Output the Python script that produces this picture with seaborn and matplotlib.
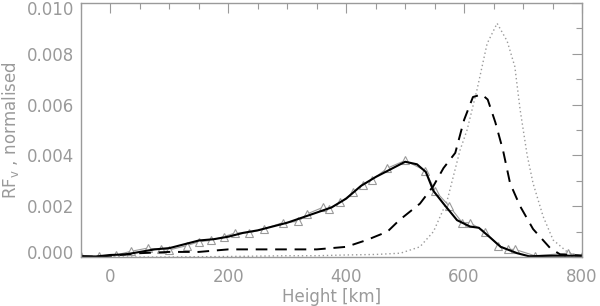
import numpy as np
import pandas as pd
import matplotlib
matplotlib.use("Agg")
import matplotlib.pyplot as plt
import seaborn as sns
from matplotlib.ticker import MultipleLocator
from matplotlib.transforms import ScaledTranslation

# --- data (RF values in units of 1e-3) ---
solid_x = [-50, -25, 0, 25, 50, 75, 100, 125, 150, 175, 200, 225, 250, 275, 300, 325, 350, 375,
           400, 425, 450, 475, 500, 520, 535, 548, 565, 588, 610, 625, 645, 662, 690, 710, 750, 800]
solid_y = [0.03, 0.02, 0.08, 0.1, 0.2, 0.3, 0.35, 0.5, 0.65, 0.7, 0.8, 0.95, 1.05, 1.2, 1.35, 1.55, 1.75, 1.95,
           2.3, 2.8, 3.15, 3.45, 3.75, 3.65, 3.35, 2.6, 2.1, 1.45, 1.2, 1.15, 0.75, 0.4, 0.15, 0.03, 0.05, 0.05]

dash_x = [-50, -25, 0, 25, 50, 100, 150, 200, 250, 300, 350, 400, 435, 470, 490, 525, 548, 565, 585,
          600, 615, 630, 640, 653, 666, 678, 695, 717, 746, 763, 800]
dash_y = [0.02, 0.01, 0.05, 0.1, 0.15, 0.2, 0.2, 0.3, 0.3, 0.3, 0.3, 0.4, 0.67, 1.0, 1.45, 2.1, 2.8, 3.5, 4.1,
          5.4, 6.3, 6.4, 6.2, 5.3, 4.2, 2.9, 2.0, 1.1, 0.35, 0.1, 0.05]

dot_x = [-50, 0, 100, 200, 300, 350, 400, 450, 492, 525, 548, 571, 593, 605, 622, 639, 656, 673, 686,
         695, 707, 717, 734, 751, 775, 800]
dot_y = [0.0, 0.0, 0.0, 0.02, 0.05, 0.05, 0.08, 0.1, 0.15, 0.4, 1.0, 2.2, 4.2, 5.0, 6.6, 8.4, 9.2, 8.5, 7.5,
         5.8, 4.0, 2.9, 1.6, 0.67, 0.2, 0.0]

raw_x = [-50, -20, 10, 34, 63, 85, 100, 130, 150, 170, 192, 212, 235, 260, 292, 319, 334, 360, 370, 390,
         412, 429, 444, 470, 500, 534, 551, 575, 597, 610, 635, 658, 675, 686, 720, 776, 800]
raw_y = [0.03, 0.02, 0.08, 0.22, 0.35, 0.3, 0.28, 0.45, 0.6, 0.65, 0.8, 0.95, 0.95, 1.1, 1.35, 1.4, 1.7, 1.95,
         1.9, 2.15, 2.55, 2.85, 3.05, 3.5, 3.8, 3.4, 2.6, 2.0, 1.35, 1.35, 1.0, 0.45, 0.3, 0.3, 0.05, 0.15, 0.05]

xticks = [0, 200, 400, 600, 800]
yticks = [0.000, 0.002, 0.004, 0.006, 0.008, 0.010]

sns.set_theme(style="white")
plt.rcParams['font.family'] = ['DejaVu Sans']

fig = plt.figure(figsize=(6.0, 3.06), dpi=100)
ax = fig.add_axes([81/600, 1-257/306, (582-81)/600, (257-3)/306])

def df(x, y):
    return pd.DataFrame({"h": x, "rf": np.array(y) * 1e-3})

sns.lineplot(data=df(raw_x, raw_y), x="h", y="rf", ax=ax, sort=False, color="#9a9a9a", lw=0.8,
             marker="^", markersize=5.5, markerfacecolor="white", markeredgecolor="#9a9a9a",
             markeredgewidth=0.8)
sns.lineplot(data=df(dot_x, dot_y), x="h", y="rf", ax=ax, sort=False, color="#9a9a9a", lw=1.0,
             linestyle=(0, (1, 2)))
sns.lineplot(data=df(dash_x, dash_y), x="h", y="rf", ax=ax, sort=False, color="black", lw=1.4,
             linestyle=(0, (6, 4)))
sns.lineplot(data=df(solid_x, solid_y), x="h", y="rf", ax=ax, sort=False, color="black", lw=1.5)

ax.set_xlim(-50, 800)
ax.set_ylim(0, 0.010)
ax.set_xticks(xticks)
ax.set_yticks(yticks)
ax.set_yticklabels([f"{v:.3f}" for v in yticks])
ax.xaxis.set_minor_locator(MultipleLocator(50))
ax.yaxis.set_minor_locator(MultipleLocator(0.001))

gray = "#9a9a9a"
for s in ax.spines.values():
    s.set_color(gray)
    s.set_linewidth(1.0)
ax.tick_params(which="both", direction="in", top=True, right=True, color=gray,
               labelcolor=gray, labelsize=12, width=0.8)
ax.tick_params(which="major", length=7.5)
ax.tick_params(which="minor", length=4.5)
ax.tick_params(axis="y", which="major", pad=5)
ax.tick_params(axis="x", which="major", pad=8)
ax.set_xlabel("Height [km]", color=gray, fontsize=12, labelpad=1)
ax.set_ylabel(r"RF$_\mathregular{v}$ , normalised", color=gray, fontsize=12, labelpad=4)
ax.grid(False)

labels = ax.get_yticklabels()
labels[0].set_transform(labels[0].get_transform() + ScaledTranslation(0, 5/100, fig.dpi_scale_trans))
labels[-1].set_transform(labels[-1].get_transform() + ScaledTranslation(0, -5/100, fig.dpi_scale_trans))

fig.savefig("out.png", dpi=100)
